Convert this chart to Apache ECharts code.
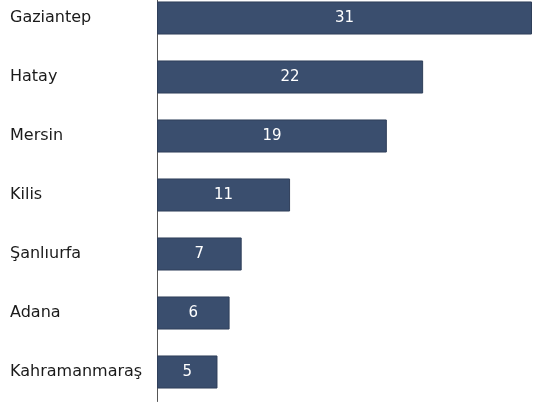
<!DOCTYPE html>
<html><head><meta charset="utf-8">
<script src="https://cdn.jsdelivr.net/npm/echarts@6/dist/echarts.min.js"></script>
<style>html,body{margin:0;padding:0;background:#fff;overflow:hidden}#c{width:533px;height:415px;margin-top:-12px}</style>
</head><body><div id="c"></div>
<script>
const categories = ["Gaziantep","Hatay","Mersin","Kilis","Şanlıurfa","Adana","Kahramanmaraş"];
const values = [31,22,19,11,7,6,5];
const chart = echarts.init(document.getElementById('c'));
chart.setOption({
  animation:false,
  grid:{left:157,right:1,top:0.5,bottom:1.5,containLabel:false},
  xAxis:{type:'value',min:0,max:31,show:false},
  yAxis:{type:'category',data:categories,inverse:true,
    axisLine:{lineStyle:{color:'#555',width:1}},
    axisTick:{show:false},
    axisLabel:{align:'left',margin:147,color:'#1a1a1a',fontFamily:'DejaVu Sans',fontSize:16}},
  series:[{type:'bar',data:values,barCategoryGap:'44%',
    itemStyle:{color:'#3a4e6e',borderColor:'#2f3f5a',borderWidth:1},
    label:{show:true,position:'inside',color:'#fff',fontFamily:'DejaVu Sans',fontSize:15}}]
});
</script></body></html>
